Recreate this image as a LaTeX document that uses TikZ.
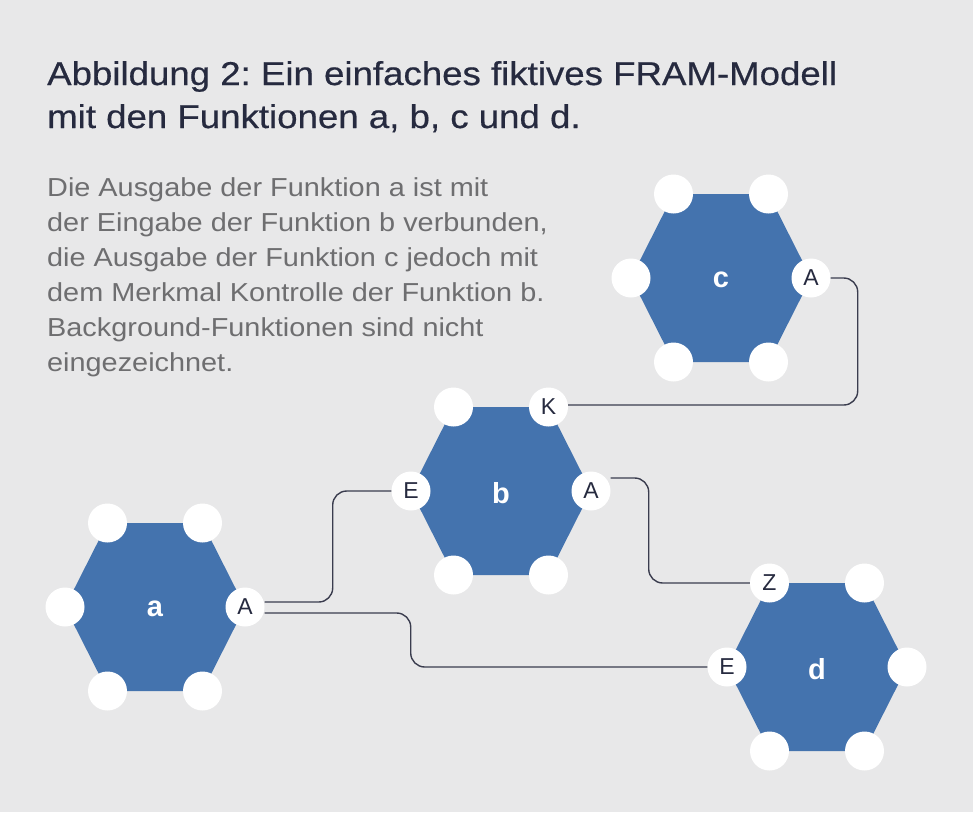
\documentclass[tikz,border=0pt]{standalone}
\usepackage{fontspec}
\setmainfont{Liberation Sans}
\newfontfamily\widefont[FakeStretch=1.11]{Liberation Sans}
\newfontfamily\titlefont[FakeStretch=1.11,FakeBold=0.5]{Liberation Sans}
\frenchspacing
\definecolor{bgc}{HTML}{E8E8E9}
\definecolor{hexblue}{HTML}{4473AE}
\definecolor{titlec}{HTML}{262A3F}
\definecolor{bodyc}{HTML}{6E6E70}
\definecolor{linec}{HTML}{3A3C4E}
\tikzset{
  portnode/.style={circle, fill=white, minimum size=39pt, inner sep=0pt, text=titlec, font=\fontsize{23}{23}\selectfont},
  fnlabel/.style={text=white, font=\fontsize{29}{29}\selectfont\bfseries, inner sep=0pt},
  conn/.style={draw=linec, line width=1.4pt, rounded corners=14pt},
  titletext/.style={anchor=base west, inner sep=0pt, text=titlec, font=\titlefont\fontsize{33}{33}\selectfont\frenchspacing},
  bodytext/.style={anchor=base west, inner sep=0pt, text=bodyc, font=\widefont\fontsize{26}{26}\selectfont\frenchspacing}
}
\newcommand{\hexfn}[8]{%
  \fill[hexblue] (#2-90,#3) -- (#2-47.5,#3-84) -- (#2+47.5,#3-84) -- (#2+90,#3) -- (#2+47.5,#3+84) -- (#2-47.5,#3+84) -- cycle;
  \node[fnlabel] (#1) at (#2,#3+2) {#4};
  \node[portnode] (#1Z) at (#2-47.5,#3-84) {#5};
  \node[portnode] (#1K) at (#2+47.5,#3-84) {#6};
  \node[portnode] (#1E) at (#2-90,#3) {#7};
  \node[portnode] (#1A) at (#2+90,#3) {#8};
  \node[portnode] (#1V) at (#2-47.5,#3+84) {};
  \node[portnode] (#1R) at (#2+47.5,#3+84) {};
}
\begin{document}
\begin{tikzpicture}[x=1pt,y=-1pt]
\fill[bgc] (0,0) rectangle (973,812);
\useasboundingbox (0,0) rectangle (973,812);

\node[titletext] (t1) at (47,85) {Abbildung 2: Ein einfaches fiktives FRAM-Modell};
\node[titletext] (t2) at (47,128) {mit den Funktionen a, b, c und d.};

\node[bodytext] (b1) at (47,196) {Die Ausgabe der Funktion a ist mit};
\node[bodytext] (b2) at (47,231) {der Eingabe der Funktion b verbunden,};
\node[bodytext] (b3) at (47,266) {die Ausgabe der Funktion c jedoch mit};
\node[bodytext] (b4) at (47,301) {dem Merkmal Kontrolle der Funktion b.};
\node[bodytext] (b5) at (47,336) {Background-Funktionen sind nicht};
\node[bodytext] (b6) at (47,371) {eingezeichnet.};

\hexfn{c}{721}{278}{c}{}{}{}{A}
\hexfn{b}{501}{491}{b}{}{K}{E}{A}
\hexfn{a}{155}{607}{a}{}{}{}{A}
\hexfn{d}{817}{667}{d}{Z}{}{E}{}

\draw[conn] (cA.east) -- ++(27,0) |- ([yshift=2pt]bK.east);
\draw[conn] ([yshift=13pt]bA.east) -- ++(38,0) |- (dZ.west);
\draw[conn] ([yshift=5pt]aA.east) -- ++(68,0) |- (bE.west);
\draw[conn] ([yshift=-6pt]aA.east) -- ++(146,0) |- (dE.west);
\end{tikzpicture}
\end{document}
